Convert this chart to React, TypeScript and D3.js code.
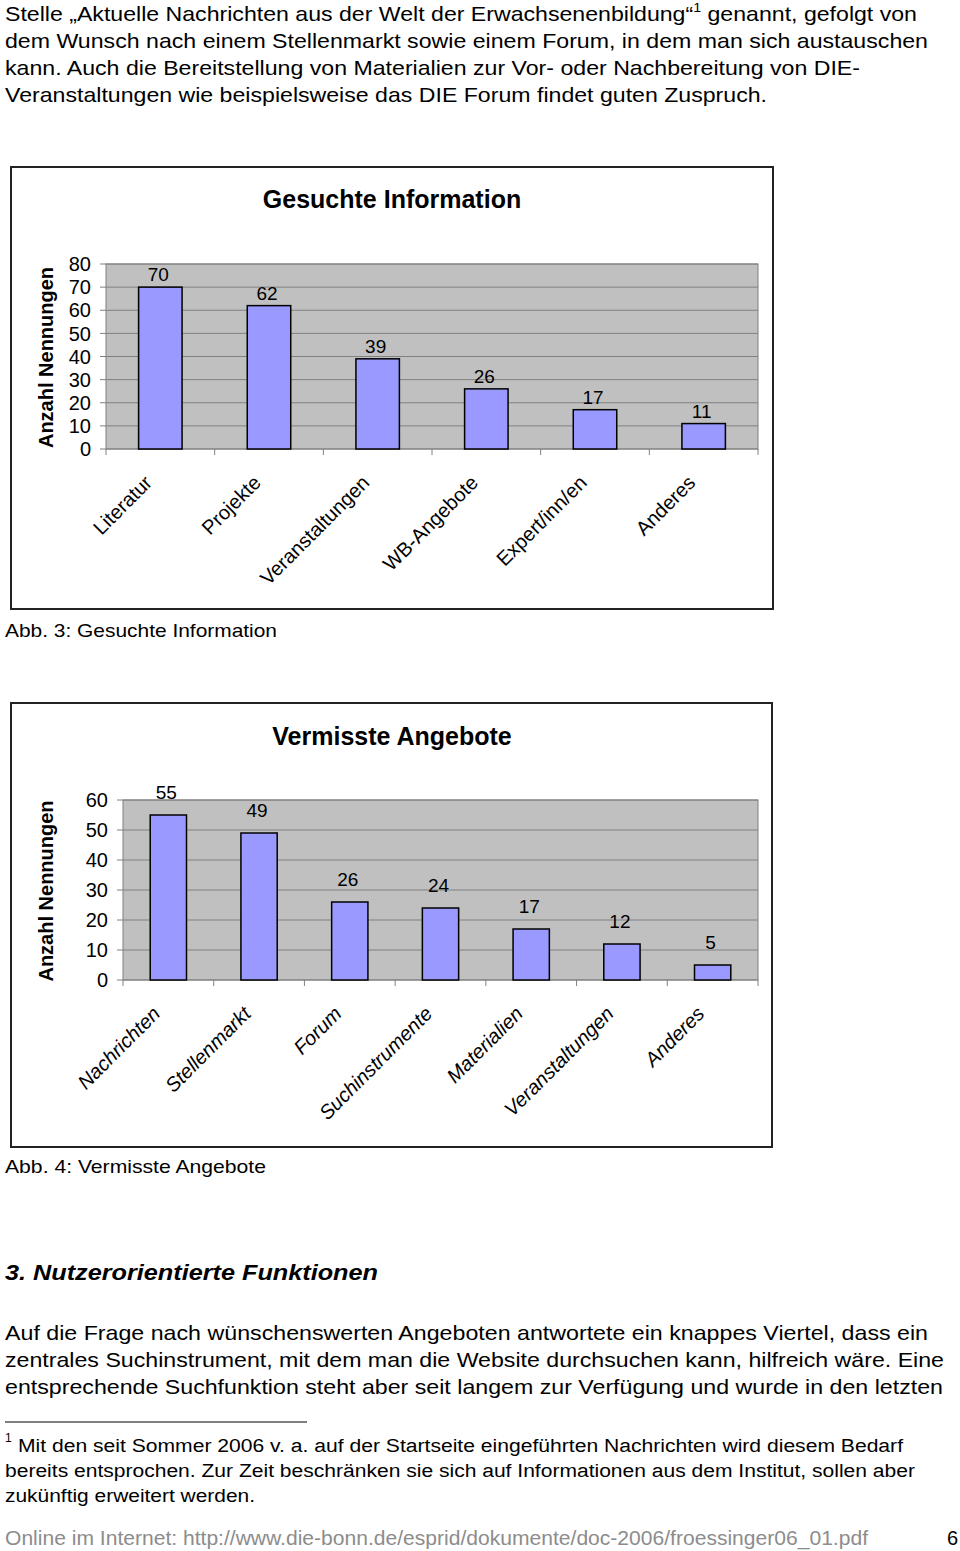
import React from 'react';
import * as d3 from 'd3';

// Abb. 3
const infoCategories = ['Literatur', 'Projekte', 'Veranstaltungen', 'WB-Angebote', 'Expert/inn/en', 'Anderes'];
const infoValues = [70, 62, 39, 26, 17, 11];
const infoTicks = [0, 10, 20, 30, 40, 50, 60, 70, 80];

// Abb. 4
const missingCategories = ['Nachrichten', 'Stellenmarkt', 'Forum', 'Suchinstrumente', 'Materialien', 'Veranstaltungen', 'Anderes'];
const missingValues = [55, 49, 26, 24, 17, 12, 5];
const missingTicks = [0, 10, 20, 30, 40, 50, 60];

const introLines = [
  'dem Wunsch nach einem Stellenmarkt sowie einem Forum, in dem man sich austauschen',
  'kann. Auch die Bereitstellung von Materialien zur Vor- oder Nachbereitung von DIE-',
  'Veranstaltungen wie beispielsweise das DIE Forum findet guten Zuspruch.',
];
const bodyLines = [
  'Auf die Frage nach wünschenswerten Angeboten antwortete ein knappes Viertel, dass ein',
  'zentrales Suchinstrument, mit dem man die Website durchsuchen kann, hilfreich wäre. Eine',
  'entsprechende Suchfunktion steht aber seit langem zur Verfügung und wurde in den letzten',
];
const footnoteLines = [
  'bereits entsprochen. Zur Zeit beschränken sie sich auf Informationen aus dem Institut, sollen aber',
  'zukünftig erweitert werden.',
];

const FONT = '"Liberation Sans", Arial, sans-serif';

type ChartProps = {
  box: { x: number; y: number; w: number; h: number };
  plot: { left: number; right: number; top: number; bottom: number };
  title: string;
  titleY: number;
  categories: string[];
  values: number[];
  ticks: number[];
  labelGap: number;
  italic?: boolean;
};

const BarChart = ({ box, plot, title, titleY, categories, values, ticks, labelGap, italic }: ChartProps) => {
  const x = d3.scaleBand().domain(categories).range([plot.left, plot.right]).paddingInner(0).paddingOuter(0);
  const y = d3.scaleLinear().domain([0, d3.max(ticks)!]).range([plot.bottom, plot.top]);
  const bw = x.bandwidth() * 0.4;
  const boundaries = categories.map(c => x(c)!).concat([plot.right]);

  return (
    <g fontFamily={FONT}>
      <rect x={box.x} y={box.y} width={box.w} height={box.h} fill="#fff" stroke="#222" strokeWidth={2} />
      <text x={392} y={titleY} textAnchor="middle" fontSize={25} fontWeight="bold">{title}</text>
      <text
        transform={`translate(${53},${(plot.top + plot.bottom) / 2 + 1}) rotate(-90)`}
        textAnchor="middle" fontSize={20} fontWeight="bold">Anzahl Nennungen</text>

      <rect x={plot.left} y={plot.top} width={plot.right - plot.left} height={plot.bottom - plot.top}
        fill="#c0c0c0" stroke="#808080" strokeWidth={1} />
      {ticks.map(t => (
        <g key={t}>
          {t > 0 && <line x1={plot.left} x2={plot.right} y1={y(t)} y2={y(t)} stroke="#808080" strokeWidth={1} />}
          <line x1={plot.left - 6} x2={plot.left} y1={y(t)} y2={y(t)} stroke="#808080" />
          <text x={plot.left - 15} y={y(t)} dy="0.36em" textAnchor="end" fontSize={20}>{t}</text>
        </g>
      ))}
      <line x1={plot.left} x2={plot.right} y1={plot.bottom} y2={plot.bottom} stroke="#808080" />
      {boundaries.map((b, i) => (
        <line key={i} x1={b} x2={b} y1={plot.bottom} y2={plot.bottom + 6} stroke="#808080" />
      ))}

      {categories.map((c, i) => {
        const cx = x(c)! + x.bandwidth() / 2;
        return (
          <g key={c}>
            <rect x={cx - bw / 2} y={y(values[i])} width={bw} height={plot.bottom - y(values[i])}
              fill="#9999ff" stroke="#000" strokeWidth={1.5} />
            <text x={cx - 2} y={y(values[i]) - labelGap} textAnchor="middle" fontSize={19}>{values[i]}</text>
            <text
              transform={`translate(${cx - 7},${plot.bottom + 35}) rotate(-45)`}
              textAnchor="end" fontSize={20} fontStyle={italic ? 'italic' : 'normal'}>{c}</text>
          </g>
        );
      })}
    </g>
  );
};

export default function App() {
  return (
    <svg width={960} height={1551} style={{ position: 'absolute', left: 0, top: 0, background: '#fff' }}
      fontFamily={FONT}>
      <text x={5} y={21} fontSize={21} textLength={912} lengthAdjust="spacingAndGlyphs">
        <tspan>Stelle „Aktuelle Nachrichten aus der Welt der Erwachsenenbildung“</tspan>
        <tspan dy={-9} fontSize={13}>1</tspan>
        <tspan dy={9}> genannt, gefolgt von</tspan>
      </text>
      {introLines.map((l, i) => (
        <text key={i} x={5} y={48 + i * 27} fontSize={21}
          textLength={[923, 855, 762][i]} lengthAdjust="spacingAndGlyphs">{l}</text>
      ))}

      <BarChart
        box={{ x: 11, y: 167, w: 762, h: 442 }}
        plot={{ left: 106, right: 758, top: 264, bottom: 449 }}
        title="Gesuchte Information" titleY={208}
        categories={infoCategories} values={infoValues} ticks={infoTicks}
        labelGap={6} />
      <text x={5} y={637} fontSize={19} textLength={272} lengthAdjust="spacingAndGlyphs">Abb. 3: Gesuchte Information</text>

      <BarChart
        box={{ x: 11, y: 703, w: 761, h: 444 }}
        plot={{ left: 123, right: 758, top: 800, bottom: 980 }}
        title="Vermisste Angebote" titleY={745}
        categories={missingCategories} values={missingValues} ticks={missingTicks}
        labelGap={16} italic />
      <text x={5} y={1173} fontSize={19} textLength={261} lengthAdjust="spacingAndGlyphs">Abb. 4: Vermisste Angebote</text>

      <text x={5} y={1280} fontSize={22} fontWeight="bold" fontStyle="italic"
        textLength={373} lengthAdjust="spacingAndGlyphs">3. Nutzerorientierte Funktionen</text>
      {bodyLines.map((l, i) => (
        <text key={i} x={5} y={1340 + i * 27} fontSize={21}
          textLength={[923, 939, 938][i]} lengthAdjust="spacingAndGlyphs">{l}</text>
      ))}

      <line x1={5} x2={307} y1={1422} y2={1422} stroke="#000" strokeWidth={1.2} />
      <text x={5} y={1442} fontSize={12}>1</text>
      <text x={18} y={1452} fontSize={18} textLength={885} lengthAdjust="spacingAndGlyphs">
        Mit den seit Sommer 2006 v. a. auf der Startseite eingeführten Nachrichten wird diesem Bedarf
      </text>
      {footnoteLines.map((l, i) => (
        <text key={i} x={5} y={1477 + i * 25} fontSize={18}
          textLength={[910, 250][i]} lengthAdjust="spacingAndGlyphs">{l}</text>
      ))}

      <text x={5} y={1545} fontSize={20} fill="#8c8c8c" textLength={863} lengthAdjust="spacingAndGlyphs">
        Online im Internet: http://www.die-bonn.de/esprid/dokumente/doc-2006/froessinger06_01.pdf
      </text>
      <text x={958} y={1545} fontSize={20} textAnchor="end">6</text>
    </svg>
  );
}
